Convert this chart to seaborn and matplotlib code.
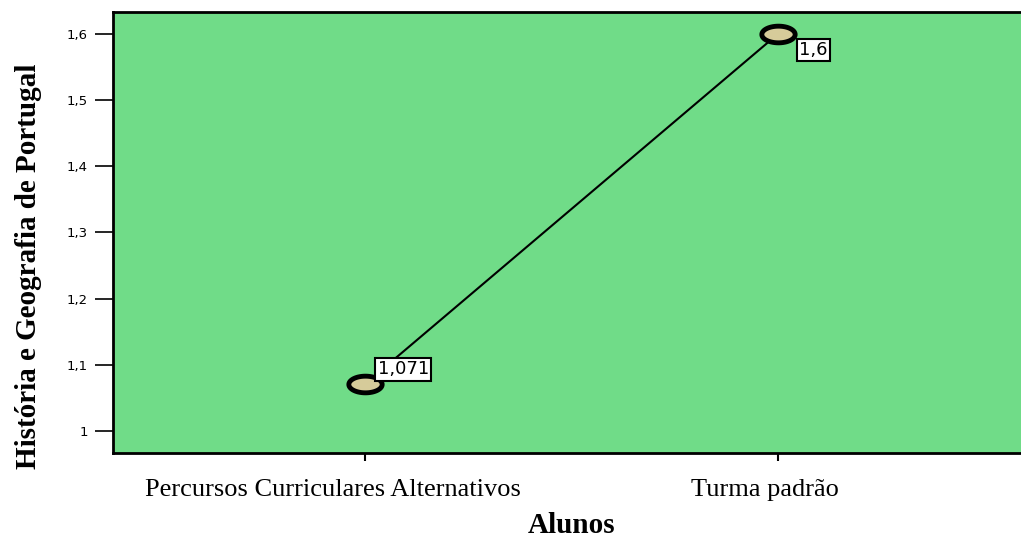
import matplotlib
matplotlib.use("Agg")
import matplotlib.pyplot as plt
import matplotlib.transforms as mtransforms
import numpy as np
import pandas as pd
import seaborn as sns
from matplotlib.path import Path

# data
grupos = ["Percursos Curriculares Alternativos", "Turma padrão"]
medias = [1.071, 1.6]
rotulos = ["1,071", "1,6"]
yticks = [1.0, 1.1, 1.2, 1.3, 1.4, 1.5, 1.6]
ytick_labels = ["1", "1,1", "1,2", "1,3", "1,4", "1,5", "1,6"]

df = pd.DataFrame({"Alunos": grupos, "media": medias})

sns.set_style("ticks")
plt.rcParams["font.family"] = ["DejaVu Sans"]
plt.rcParams["text.color"] = "black"
plt.rcParams["xtick.color"] = "black"
plt.rcParams["ytick.color"] = "black"
plt.rcParams["axes.labelcolor"] = "black"

# elliptic marker like SPSS
t = np.linspace(0, 2 * np.pi, 60)
ellipse = Path(np.column_stack([np.cos(t), 0.5 * np.sin(t)]), closed=True)

fig = plt.figure(figsize=(10.21, 5.45), dpi=100)
ax = fig.add_axes([0.1107, 0.1688, 0.8893, 0.8092])
ax.set_facecolor("#70DC88")

sns.lineplot(data=df, x="Alunos", y="media", ax=ax, color="black", linewidth=1.5,
             marker=ellipse, markersize=24, markerfacecolor="#D6CB9A",
             markeredgecolor="black", markeredgewidth=3.5, sort=False)

ax.set_xlim(-0.61, 1.588)
ax.set_ylim(0.9668, 1.633)
ax.set_yticks(yticks)
ax.set_yticklabels(ytick_labels, fontsize=9.5)
ax.set_xticks([0, 1])
ax.set_xticklabels(grupos, fontsize=19, family="Liberation Serif")
ax.tick_params(axis="y", length=13, width=1.2, pad=5)
ax.tick_params(axis="x", length=6, width=1.5, pad=13)

# the category labels sit a little left of their ticks in the original
for lab, dx in zip(ax.get_xticklabels(), [-32, -13]):
    lab.set_transform(lab.get_transform() +
                      mtransforms.ScaledTranslation(dx / 100, 0, fig.dpi_scale_trans))

for side in ["left", "top", "bottom"]:
    ax.spines[side].set_linewidth(2)
    ax.spines[side].set_color("black")
ax.spines["right"].set_visible(False)

ax.set_ylabel("História e Geografia de Portugal", fontsize=21, fontweight="bold",
              family="Liberation Serif")
ax.yaxis.set_label_coords(-0.078, 0.424)
ax.set_xlabel("Alunos", fontsize=21, fontweight="bold", family="Liberation Serif")
ax.xaxis.set_label_coords(0.5055, -0.134)

offsets = [((9, 4), "left", "bottom"), ((15, -5), "left", "top")]
for i, (val, lab) in enumerate(zip(medias, rotulos)):
    (dx, dy), ha, va = offsets[i]
    ax.annotate(lab, xy=(i, val), xytext=(dx, dy), textcoords="offset points",
                ha=ha, va=va, fontsize=13,
                bbox=dict(boxstyle="square,pad=0.12", fc="white", ec="black", lw=1.5))

fig.savefig("out.png", dpi=100)
